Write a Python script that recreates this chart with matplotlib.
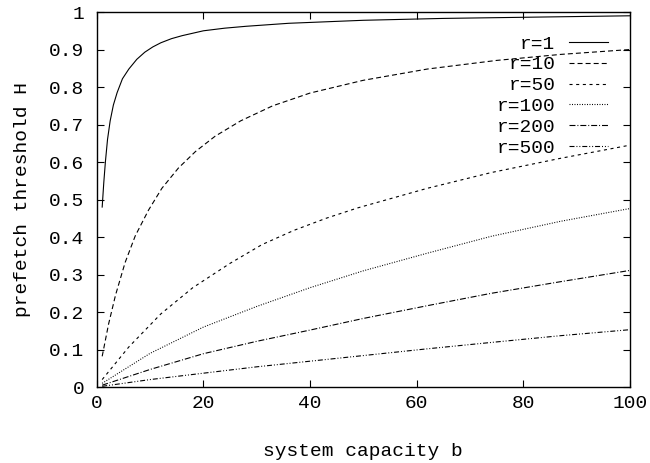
import matplotlib
matplotlib.use("Agg")
import matplotlib.pyplot as plt
from matplotlib.ticker import FuncFormatter

plt.rcParams["font.family"] = ["Liberation Mono", "DejaVu Sans Mono"]
plt.rcParams["lines.scale_dashes"] = False

# prefetch threshold H versus system capacity b, one series per r
b_r1 = [1, 1.3, 1.6, 2.0, 2.5, 3.1, 3.8, 4.8, 6, 7.5, 9, 10.5, 12, 14, 16,
        20, 24, 28, 36, 50, 65, 80, 100]
h_r1 = [0.48, 0.545, 0.60, 0.66, 0.71, 0.752, 0.785, 0.822, 0.848, 0.874,
        0.893, 0.907, 0.918, 0.929, 0.937, 0.950, 0.957, 0.962, 0.970, 0.978,
        0.983, 0.986, 0.990]

b_r10 = [1, 2.2, 3.5, 5.3, 7.2, 9.7, 12.2, 15.3, 18.5, 22.2, 27, 33, 40, 50,
         62, 75, 87, 100]
h_r10 = [0.082, 0.168, 0.245, 0.332, 0.403, 0.472, 0.530, 0.584, 0.628, 0.669,
         0.710, 0.750, 0.784, 0.818, 0.848, 0.871, 0.887, 0.900]

b_r50 = [1, 6, 12, 18, 25, 31, 37, 43, 49, 62, 74, 87, 100]
h_r50 = [0.02, 0.107, 0.195, 0.265, 0.330, 0.380, 0.418, 0.450, 0.478, 0.530,
         0.572, 0.610, 0.645]

b_r100 = [1, 10, 20, 30, 40, 50, 62, 74, 87, 100]
h_r100 = [0.01, 0.09, 0.160, 0.215, 0.265, 0.310, 0.357, 0.402, 0.442, 0.476]

b_r200 = [1, 10, 20, 30, 40, 50, 62, 74, 87, 100]
h_r200 = [0.005, 0.047, 0.089, 0.122, 0.152, 0.183, 0.217, 0.250, 0.281, 0.311]

b_r500 = [1, 10, 20, 30, 40, 50, 62, 74, 87, 100]
h_r500 = [0.002, 0.020, 0.037, 0.054, 0.069, 0.084, 0.102, 0.119, 0.137, 0.153]

labels = ["r=1", "r=10", "r=50", "r=100", "r=200", "r=500"]
series = [(b_r1, h_r1), (b_r10, h_r10), (b_r50, h_r50),
          (b_r100, h_r100), (b_r200, h_r200), (b_r500, h_r500)]
dashes = [None,
          (3.6, 2.2),
          (2.2, 2.6),
          (0.7, 1.1),
          (4.3, 1.4, 0.7, 1.4),
          (3.6, 1.4, 0.7, 1.4, 0.7, 1.4)]

fig = plt.figure(figsize=(6.5, 4.63), dpi=100)
ax = fig.add_axes([0.149, 0.164, 0.820, 0.810])

for (bx, hy), lab, d in zip(series, labels, dashes):
    line, = ax.plot(bx, hy, color="black", lw=0.8, label=lab)
    if d is not None:
        line.set_dashes(d)

ax.set_xlim(0, 100)
ax.set_ylim(0, 1)
ax.set_xticks([0, 20, 40, 60, 80, 100])
ax.set_yticks([i / 10 for i in range(11)])
ax.yaxis.set_major_formatter(FuncFormatter(lambda v, p: f"{v:g}"))
ax.tick_params(direction="in", length=5, width=0.8, top=True, right=True,
               labelsize=14)
ax.tick_params(axis="x", pad=6)
ax.tick_params(axis="y", pad=9)
for s in ax.spines.values():
    s.set_linewidth(1.0)

ax.set_xlabel("system capacity b", fontsize=14, labelpad=22)
ax.set_ylabel("prefetch threshold H", fontsize=14, labelpad=13)

leg = ax.legend(loc="upper right", bbox_to_anchor=(0.959, 0.939),
                frameon=False, markerfirst=False, fontsize=14,
                handlelength=2.0, handletextpad=0.7, labelspacing=0.17,
                borderpad=0, borderaxespad=0)

fig.savefig("out.png", dpi=100)
